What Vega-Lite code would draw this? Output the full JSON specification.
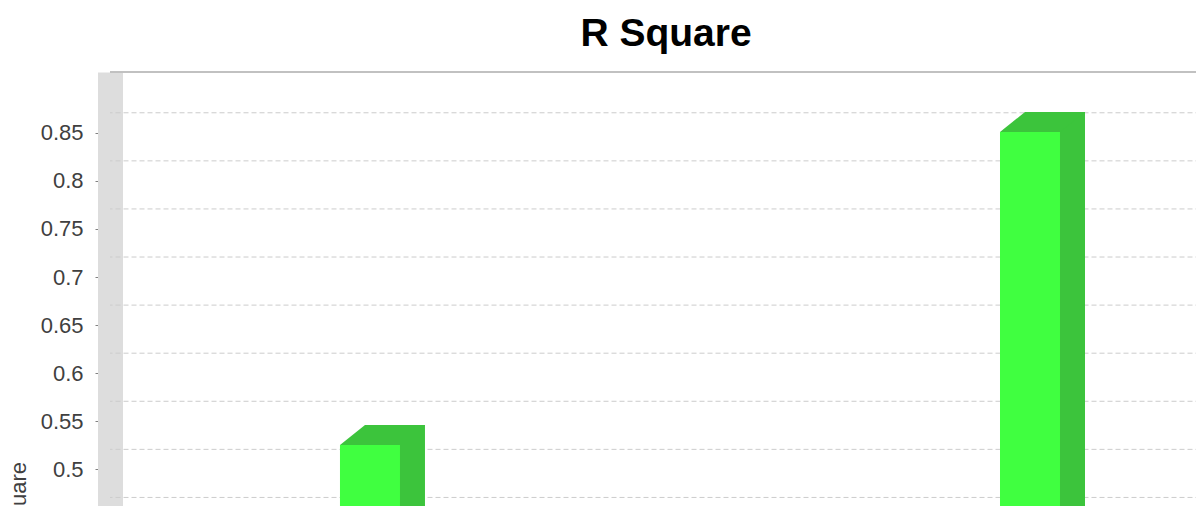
{
  "$schema": "https://vega.github.io/schema/vega-lite/v6.json",
  "autosize": {"type": "none"},
  "width": 1086,
  "height": 434,
  "padding": {"left": 110, "top": 72, "right": 0, "bottom": 0},
  "background": "white",
  "config": {"view": {"stroke": null}, "font": "Liberation Sans"},
  "title": {
    "text": "R Square",
    "font": "Liberation Sans",
    "fontSize": 39,
    "fontWeight": "bold",
    "color": "#000000",
    "anchor": "middle",
    "baseline": "alphabetic",
    "offset": -14,
    "dx": 13
  },
  "datasets": {
    "bars": [
      {"model": "Model 1", "r2": 0.5253},
      {"model": "Model 2", "r2": 0.8508}
    ],
    "grid": [
      {"tick": 0.45}, {"tick": 0.5}, {"tick": 0.55}, {"tick": 0.6}, {"tick": 0.65},
      {"tick": 0.7}, {"tick": 0.75}, {"tick": 0.8}, {"tick": 0.85}
    ]
  },
  "data": {"name": "bars"},
  "layer": [
    {
      "data": {"name": "grid"},
      "mark": {"type": "rule", "color": "#CCCCCC", "strokeDash": [5, 3], "strokeWidth": 1, "xOffset": 12.5, "yOffset": -20},
      "encoding": {
        "y": {"field": "tick", "type": "quantitative", "title": "R Square", "scale": {"domain": [0.4619, 0.9132], "zero": false, "nice": false}}
      }
    },
    {
      "mark": {"type": "rule", "color": "#BDBDBD", "strokeWidth": 1.5, "xOffset": 12.5},
      "encoding": {
        "y": {"datum": 0.9132, "type": "quantitative", "title": "R Square", "scale": {"domain": [0.4619, 0.9132], "zero": false, "nice": false}}
      }
    },
    {
      "mark": {"type": "bar", "width": 60, "color": "#3CC43C", "xOffset": 25, "yOffset": -20},
      "encoding": {
        "x": {"field": "model", "type": "nominal", "axis": null, "scale": {"type": "band", "paddingInner": 0.5, "paddingOuter": 0.0727, "align": 0.9896}},
        "y": {"field": "r2", "type": "quantitative", "title": "R Square", "scale": {"domain": [0.4619, 0.9132], "zero": false, "nice": false}},
        "y2": {"datum": 0}
      }
    },
    {
      "mark": {"type": "point", "shape": "M-30,0L30,0L55,-20L-5,-20Z", "size": 4, "filled": true, "color": "#3CC43C", "opacity": 1, "strokeWidth": 0},
      "encoding": {
        "x": {"field": "model", "type": "nominal", "axis": null, "scale": {"type": "band", "paddingInner": 0.5, "paddingOuter": 0.0727, "align": 0.9896}},
        "y": {"field": "r2", "type": "quantitative", "title": "R Square", "scale": {"domain": [0.4619, 0.9132], "zero": false, "nice": false}}
      }
    },
    {
      "mark": {"type": "bar", "width": 60, "color": "#40FF40"},
      "encoding": {
        "x": {"field": "model", "type": "nominal", "axis": null, "scale": {"type": "band", "paddingInner": 0.5, "paddingOuter": 0.0727, "align": 0.9896}},
        "y": {
          "field": "r2",
          "type": "quantitative",
          "title": "R Square",
          "scale": {"domain": [0.4619, 0.9132], "zero": false, "nice": false},
          "axis": {
            "values": [0.5, 0.55, 0.6, 0.65, 0.7, 0.75, 0.8, 0.85],
            "format": ".2~f",
            "grid": false,
            "domain": true,
            "domainColor": "#DDDDDD",
            "domainWidth": 25,
            "ticks": true,
            "tickColor": "#808080",
            "tickSize": 15,
            "tickWidth": 1,
            "labelFont": "Liberation Sans",
            "labelFontSize": 22,
            "labelColor": "#404040",
            "labelPadding": 12,
            "labelFlush": false,
            "labelOverlap": false,
            "titleFont": "Liberation Sans",
            "titleFontSize": 22,
            "titleFontWeight": "normal",
            "titleColor": "#404040",
            "titleAngle": 270,
            "titleX": -85,
            "titleY": 436,
            "titleBaseline": "alphabetic",
            "titleAlign": "center"
          }
        },
        "y2": {"datum": 0}
      }
    }
  ]
}
